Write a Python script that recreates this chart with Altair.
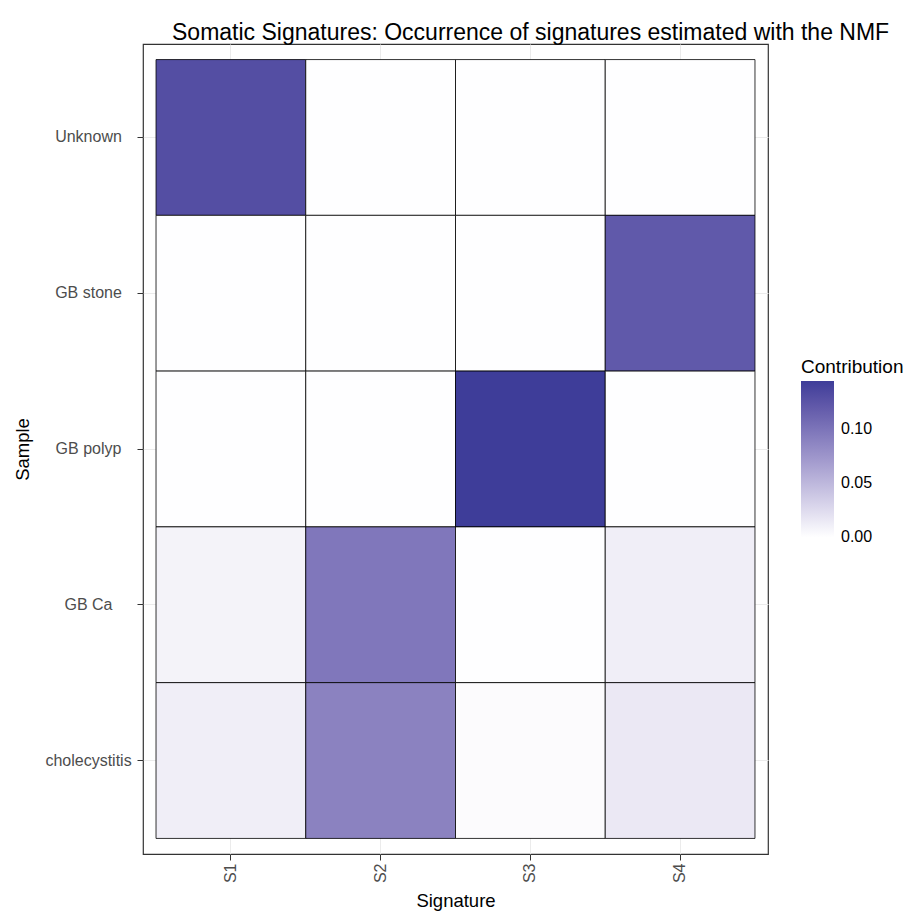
import altair as alt
import pandas as pd

samples = ["Unknown", "GB stone", "GB polyp", "GB Ca", "cholecystitis"]
signatures = ["S1", "S2", "S3", "S4"]
# contribution values, rows = samples, columns = signatures
values = [
    [0.130, 0.0, 0.0, 0.0],
    [0.0, 0.0, 0.0, 0.121],
    [0.0, 0.0, 0.1445, 0.0],
    [0.008, 0.097, 0.0, 0.011],
    [0.011, 0.089, 0.002, 0.015],
]

rows = []
for i, s in enumerate(samples):
    for j, g in enumerate(signatures):
        rows.append({"Sample": s, "Signature": g, "Contribution": values[i][j]})
df = pd.DataFrame(rows)

FONT = "Liberation Sans"

chart = alt.Chart(df).mark_rect(stroke="black", strokeWidth=0.8, opacity=1).encode(
    x=alt.X("Signature:N", sort=signatures,
            scale=alt.Scale(paddingInner=0, paddingOuter=0.087),
            axis=alt.Axis(title="Signature", labelAngle=270, bandPosition=0.5,
                          grid=True, gridColor="#EBEBEB", domain=False, zindex=0,
                          tickColor="#333333", tickSize=6, labelColor="#4D4D4D",
                          labelFontSize=16, titleFontSize=18.5, titleFontWeight="normal",
                          titleColor="black", labelFont=FONT, titleFont=FONT,
                          labelAlign="right", labelBaseline="middle", labelPadding=3,
                          titleX=312.5, titleY=46, titleBaseline="middle",
                          titleAlign="center")),
    y=alt.Y("Sample:N", sort=samples,
            scale=alt.Scale(paddingInner=0, paddingOuter=0.1),
            axis=alt.Axis(title="Sample", bandPosition=0.5,
                          grid=True, gridColor="#EBEBEB", domain=False, zindex=0,
                          tickColor="#333333", tickSize=6, labelColor="#4D4D4D",
                          labelFontSize=16, titleFontSize=18.5, titleFontWeight="normal",
                          titleColor="black", labelFont=FONT, titleFont=FONT,
                          labelAlign="center", labelPadding=49,
                          titleX=-121, titleY=405, titleBaseline="middle",
                          titleAlign="center", titleAngle=270)),
    color=alt.Color("Contribution:Q",
                    scale=alt.Scale(domain=[-0.0004, 0.1445], range=["#FFFFFF", "#3E3D99"],
                                    interpolate="lab"),
                    legend=alt.Legend(title="Contribution", orient="none",
                                      legendX=658, legendY=314,
                                      gradientLength=156, gradientThickness=33,
                                      values=[0, 0.05, 0.10], format=".2f",
                                      titleFontSize=19, titleFontWeight="normal",
                                      titleColor="black", labelFontSize=16,
                                      labelColor="black", titleFont=FONT, labelFont=FONT,
                                      titlePadding=4, labelOffset=7,
                                      labelBaseline="middle", labelOverlap=False)),
).properties(
    width=625, height=810,
    title=alt.TitleParams("Somatic Signatures: Occurrence of signatures estimated with the NMF",
                          anchor="start", frame="group", dx=29, fontSize=23,
                          fontWeight="normal", color="black", font=FONT,
                          baseline="alphabetic", offset=-19),
    autosize=alt.AutoSizeParams(type="none"),
    padding={"left": 135, "top": 36, "right": 139, "bottom": 57},
).configure_view(stroke="#333333", strokeWidth=1.2)

chart.save("out.html", embed_options={"renderer": "svg", "actions": False})
